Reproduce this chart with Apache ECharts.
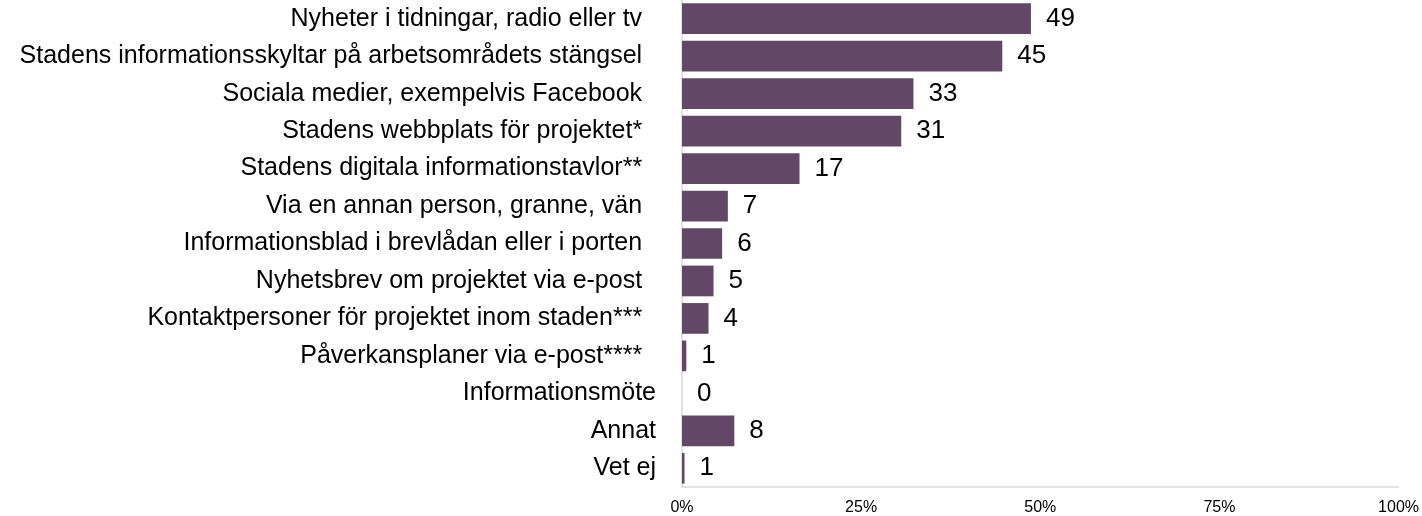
<!DOCTYPE html>
<html><head><meta charset="utf-8">
<script src="https://cdn.jsdelivr.net/npm/echarts@6/dist/echarts.min.js"></script>
<style>html,body{margin:0;padding:0;background:#fff}#c{width:1422px;height:516px}</style>
</head><body><div id="c"></div>
<script>
const categories = [
  "Nyheter i tidningar, radio eller tv  ",
  "Stadens informationsskyltar på arbetsområdets stängsel  ",
  "Sociala medier, exempelvis Facebook  ",
  "Stadens webbplats för projektet*  ",
  "Stadens digitala informationstavlor**  ",
  "Via en annan person, granne, vän  ",
  "Informationsblad i brevlådan eller i porten  ",
  "Nyhetsbrev om projektet via e-post  ",
  "Kontaktpersoner för projektet inom staden***  ",
  "Påverkansplaner via e-post****  ",
  "Informationsmöte",
  "Annat",
  "Vet ej"
];
// bar lengths (percent)
const percents = [48.7, 44.7, 32.3, 30.6, 16.4, 6.4, 5.6, 4.4, 3.7, 0.6, 0, 7.3, 0.35];
// value labels shown next to bars
const valueLabels = [49, 45, 33, 31, 17, 7, 6, 5, 4, 1, 0, 8, 1];
const tickLabels = ["0%", "25%", "50%", "75%", "100%"];

const chart = echarts.init(document.getElementById('c'));
chart.setOption({
  animation: false,
  grid: { left: 682, right: 22, top: 0, bottom: 29, containLabel: false },
  xAxis: {
    type: 'value', min: 0, max: 100, interval: 25,
    splitLine: { show: false },
    axisLine: { show: true, lineStyle: { color: '#d9d9d9', width: 1.5 } },
    axisTick: { show: false },
    axisLabel: {
      color: '#000', fontFamily: 'Liberation Sans, Arial', fontSize: 16, margin: 13,
      formatter: v => tickLabels[Math.round(v / 25)]
    }
  },
  yAxis: {
    type: 'category', inverse: true, data: categories,
    axisLine: { show: true, lineStyle: { color: '#d9d9d9', width: 1.5 } },
    axisTick: { show: false },
    axisLabel: { color: '#000', fontFamily: 'Liberation Sans, Arial', fontSize: 25, margin: 26 }
  },
  series: [{
    type: 'bar', data: percents, barCategoryGap: '18%',
    itemStyle: { color: '#624766' },
    label: {
      show: true, position: 'right', distance: 15, color: '#000',
      fontFamily: 'Liberation Sans, Arial', fontSize: 26,
      formatter: p => String(valueLabels[p.dataIndex])
    }
  }]
});
</script></body></html>
